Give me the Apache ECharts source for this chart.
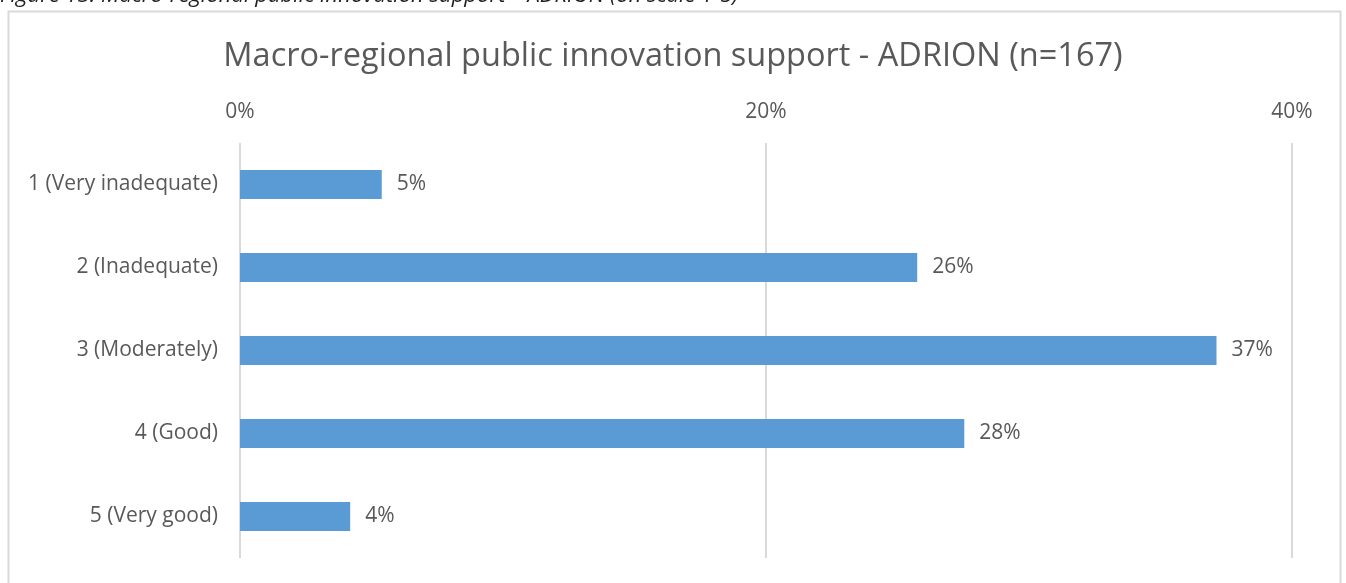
<!DOCTYPE html>
<html>
<head>
<meta charset="utf-8">
<script src="https://cdn.jsdelivr.net/npm/echarts@6/dist/echarts.min.js"></script>
<style>
  html, body { margin: 0; padding: 0; background: #ffffff; }
  #chart { width: 1346px; height: 583px; }
</style>
</head>
<body>
<div id="chart"></div>
<script>
// Ratings on the 1-5 scale, shown top to bottom
const categories = ['1 (Very inadequate)', '2 (Inadequate)', '3 (Moderately)', '4 (Good)', '5 (Very good)'];
// Share of respondents (%)
const shares = [5.39, 25.75, 37.13, 27.54, 4.19];
// Value axis ticks (%)
const tickValues = [0, 20, 40];

const textColor = '#595959';
const gridColor = '#d9d9d9';
const font = 'Open Sans';

const chart = echarts.init(document.getElementById('chart'));
chart.setOption({
  animation: false,
  backgroundColor: '#ffffff',
  graphic: [
    {
      type: 'text',
      style: {
        x: 0,
        y: 7,
        verticalAlign: 'bottom',
        text: 'Figure 13: Macro-regional public innovation support \u2013 ADRION (on scale 1-5)',
        font: 'italic 22px "Open Sans"',
        fill: '#1f1f1f'
      }
    },
    {
      type: 'rect',
      shape: { x: 8.5, y: 11.5, width: 1332, height: 590 },
      style: { fill: 'none', stroke: gridColor, lineWidth: 2 }
    }
  ],
  title: {
    text: 'Macro-regional public innovation support - ADRION (n=167)',
    left: 'center',
    top: 35,
    textStyle: { fontFamily: font, fontSize: 32.5, fontWeight: 'normal', color: textColor }
  },
  grid: { left: 240, right: 54, top: 143, bottom: 25, containLabel: false },
  xAxis: {
    type: 'value',
    position: 'top',
    min: tickValues[0],
    max: tickValues[tickValues.length - 1],
    interval: tickValues[1] - tickValues[0],
    axisLine: { show: false },
    axisTick: { show: false },
    axisLabel: {
      color: textColor, fontFamily: font, fontSize: 21, margin: 20,
      formatter: v => v + '%'
    },
    splitLine: { show: true, lineStyle: { color: gridColor, width: 2 } }
  },
  yAxis: {
    type: 'category',
    data: categories,
    inverse: true,
    axisLine: { show: false },
    axisTick: { show: false },
    axisLabel: { color: textColor, fontFamily: font, fontSize: 21, margin: 22 }
  },
  series: [{
    type: 'bar',
    data: shares,
    barCategoryGap: '65%',
    itemStyle: { color: '#5b9bd5' },
    label: {
      show: true,
      position: 'right',
      distance: 15,
      color: textColor,
      fontFamily: font,
      fontSize: 21,
      formatter: p => Math.round(p.value) + '%'
    }
  }]
});
</script>
</body>
</html>
